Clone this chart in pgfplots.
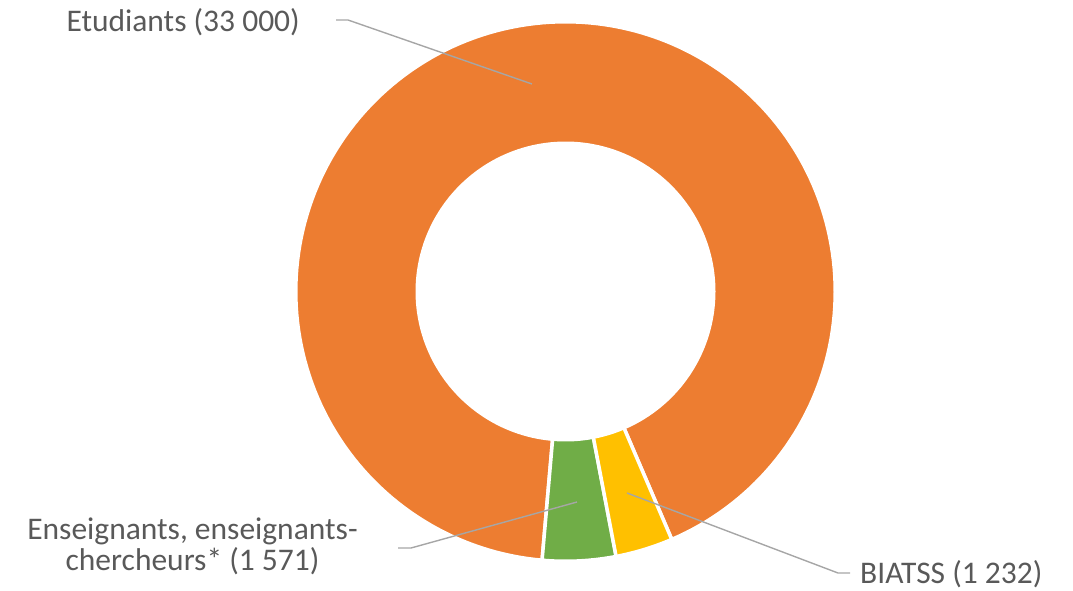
\documentclass[border=0pt]{standalone}
\usepackage{pgfplots}
\pgfplotsset{compat=1.18}
\usepackage{fontspec}
\setmainfont{Carlito}
\definecolor{cOrange}{HTML}{ED7D31}
\definecolor{cGreen}{HTML}{70AD47}
\definecolor{cYellow}{HTML}{FFC000}
\definecolor{cText}{HTML}{595959}
\definecolor{cLine}{HTML}{A6A6A6}
% values (in thousands)
\def\vEtu{33.000}
\def\vEns{1.571}
\def\vBia{1.232}
\pgfmathsetmacro\tot{\vEtu+\vEns+\vBia}
\pgfmathsetmacro\aS{-66.8}
\pgfmathsetmacro\aB{\aS-360*\vBia/\tot}
\pgfmathsetmacro\aC{\aB-360*\vEns/\tot}
\pgfmathsetmacro\aD{\aC-360*\vEtu/\tot}
\def\cx{565.5}
\def\cy{298.5}
\def\Ro{269.75}
\def\Ri{150}
\begin{document}
\begin{tikzpicture}
\begin{axis}[
  x=1pt, y=1pt, xmin=0, xmax=1073, ymin=0, ymax=590,
  hide axis, clip=false, scale only axis,
  every axis plot/.append style={no markers},
]
% wedges
\addplot[fill=cOrange, draw=white, line width=3.5pt, domain=\aD:\aC, samples=200]
  ({\cx+\Ro*cos(x)},{\cy+\Ro*sin(x)}) -- (axis cs:\cx,\cy) -- cycle;
\addplot[fill=cGreen, draw=white, line width=3.5pt, domain=\aC:\aB, samples=30]
  ({\cx+\Ro*cos(x)},{\cy+\Ro*sin(x)}) -- (axis cs:\cx,\cy) -- cycle;
\addplot[fill=cYellow, draw=white, line width=3.5pt, domain=\aB:\aS, samples=30]
  ({\cx+\Ro*cos(x)},{\cy+\Ro*sin(x)}) -- (axis cs:\cx,\cy) -- cycle;
% hole
\addplot[fill=white, draw=none, domain=0:360, samples=200]
  ({\cx+\Ri*cos(x)},{\cy+\Ri*sin(x)}) -- cycle;
% leader lines
\addplot[cLine, line width=1.4pt] coordinates {(336,570) (348,570) (532,506)};
\addplot[cLine, line width=1.4pt] coordinates {(398,42) (411,42) (577,88)};
\addplot[cLine, line width=1.4pt] coordinates {(627,97) (838,17) (850,17)};
% labels
\node[anchor=base east, inner sep=0pt, text=cText, font=\fontsize{31.5}{31}\selectfont] at (axis cs:300,558) {Etudiants (33 000)};
\node[anchor=base, inner sep=0pt, text=cText, font=\fontsize{31.5}{31}\selectfont] at (axis cs:192.5,51) {Enseignants, enseignants-};
\node[anchor=base, inner sep=0pt, text=cText, font=\fontsize{31.5}{31}\selectfont] at (axis cs:192.5,20) {chercheurs* (1 571)};
\node[anchor=base west, inner sep=0pt, text=cText, font=\fontsize{31.5}{31}\selectfont] at (axis cs:860,7) {BIATSS (1 232)};
\end{axis}
\pgfresetboundingbox
\path (0,0) rectangle (1073pt,590pt);
\end{tikzpicture}
\end{document}
